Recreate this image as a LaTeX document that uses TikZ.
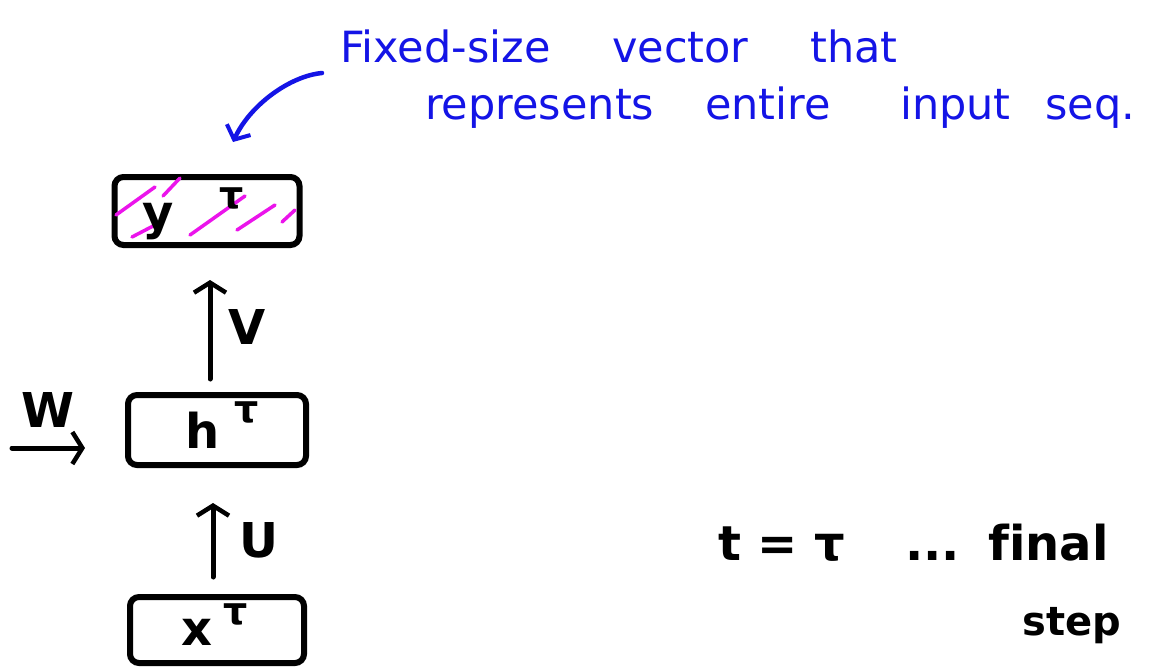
\documentclass[tikz,border=0pt]{standalone}
\usepackage{fontspec}
\setmainfont[Ligatures=NoCommon]{DejaVu Sans}
\usetikzlibrary{arrows.meta}
\definecolor{penblue}{RGB}{20,20,230}
\definecolor{penmag}{RGB}{235,20,235}
\begin{document}
\begin{tikzpicture}[x=1pt,y=-1pt,
  box/.style={draw,line width=6pt,rounded corners=9pt,inner sep=0pt},
  arr/.style={line width=5pt,line cap=round,-{Straight Barb[length=10pt,width=32pt,line width=4.5pt]}},
  barr/.style={penblue,line width=4.5pt,line cap=round,-{Straight Barb[length=11pt,width=26pt,line width=4pt]}},
  lab/.style={inner sep=0pt,font=\bfseries\fontsize{48}{54}\selectfont},
  sup/.style={inner sep=0pt,font=\bfseries\fontsize{38}{42}\selectfont},
  note/.style={inner sep=0pt,anchor=base west,text=penblue,font=\fontsize{43}{48}\selectfont},
  big/.style={inner sep=0pt,anchor=base west,font=\bfseries\fontsize{48}{54}\selectfont},
  hatch/.style={penmag,line width=3.5pt,line cap=round}
]
\fill[white] (0,0) rectangle (1153,667);
\useasboundingbox (0,0) rectangle (1153,667);

% boxes
\node[box,minimum width=185pt,minimum height=68pt] (yb) at (207,211) {};
\node[box,minimum width=178pt,minimum height=70pt] (hb) at (217,430) {};
\node[box,minimum width=174pt,minimum height=66pt] (xb) at (217,630) {};

% magenta hatching in the y box
\draw[hatch] (116,215) -- (155,187);
\draw[hatch] (163,196) -- (180,178);
\draw[hatch] (132,237) -- (155,225);
\draw[hatch] (190,235) -- (245,196);
\draw[hatch] (237,230) -- (275,205);
\draw[hatch] (282,222) -- (295,210);

% box labels
\node[lab] (ylab) at (158,222) {y};
\node[sup] (ytau) at (232,198) {τ};
\node[lab] (hlab) at (203,430) {h};
\node[sup] (htau) at (247,412) {τ};
\node[lab] (xlab) at (197,632) {x};
\node[sup] (xtau) at (236,614) {τ};

% connectors
\draw[arr] ([xshift=-7pt,yshift=13pt]hb.north) -- ([xshift=3pt,yshift=-32pt]yb.south);
\draw[arr] ([xshift=-4pt,yshift=17pt]xb.north) -- ([xshift=-4pt,yshift=-35pt]hb.south);
\coordinate (win) at (12,448);
\draw[arr] (win) -- ([xshift=-40pt,yshift=-18pt]hb.west);

\node[lab] (vlab) at (247,327) {V};
\node[lab] (ulab) at (259,540) {U};
\node[lab] (wlab) at (48,410) {W};

% blue note
\coordinate (bstart) at (322,73);
\coordinate (btip) at (233,142);
\draw[barr] (bstart) .. controls (290,76) and (250,105) .. (btip);

\node[note] (n1) at (340,62) {Fixed-size};
\node[note] (n2) at (612,62) {vector};
\node[note] (n3) at (810,62) {that};
\node[note] (n4) at (425,119) {represents};
\node[note] (n5) at (705,119) {entire};
\node[note] (n6) at (900,119) {input};
\node[note] (n7) at (1045,119) {seq.};

% black note
\node[big] (teq) at (718,560) {t = τ};
\node[big] (dots) at (905,560) {...};
\node[big] (fin) at (988,560) {final};
\node[big] (stp) at (1022,635) {\fontsize{40}{44}\selectfont step};
\end{tikzpicture}
\end{document}
